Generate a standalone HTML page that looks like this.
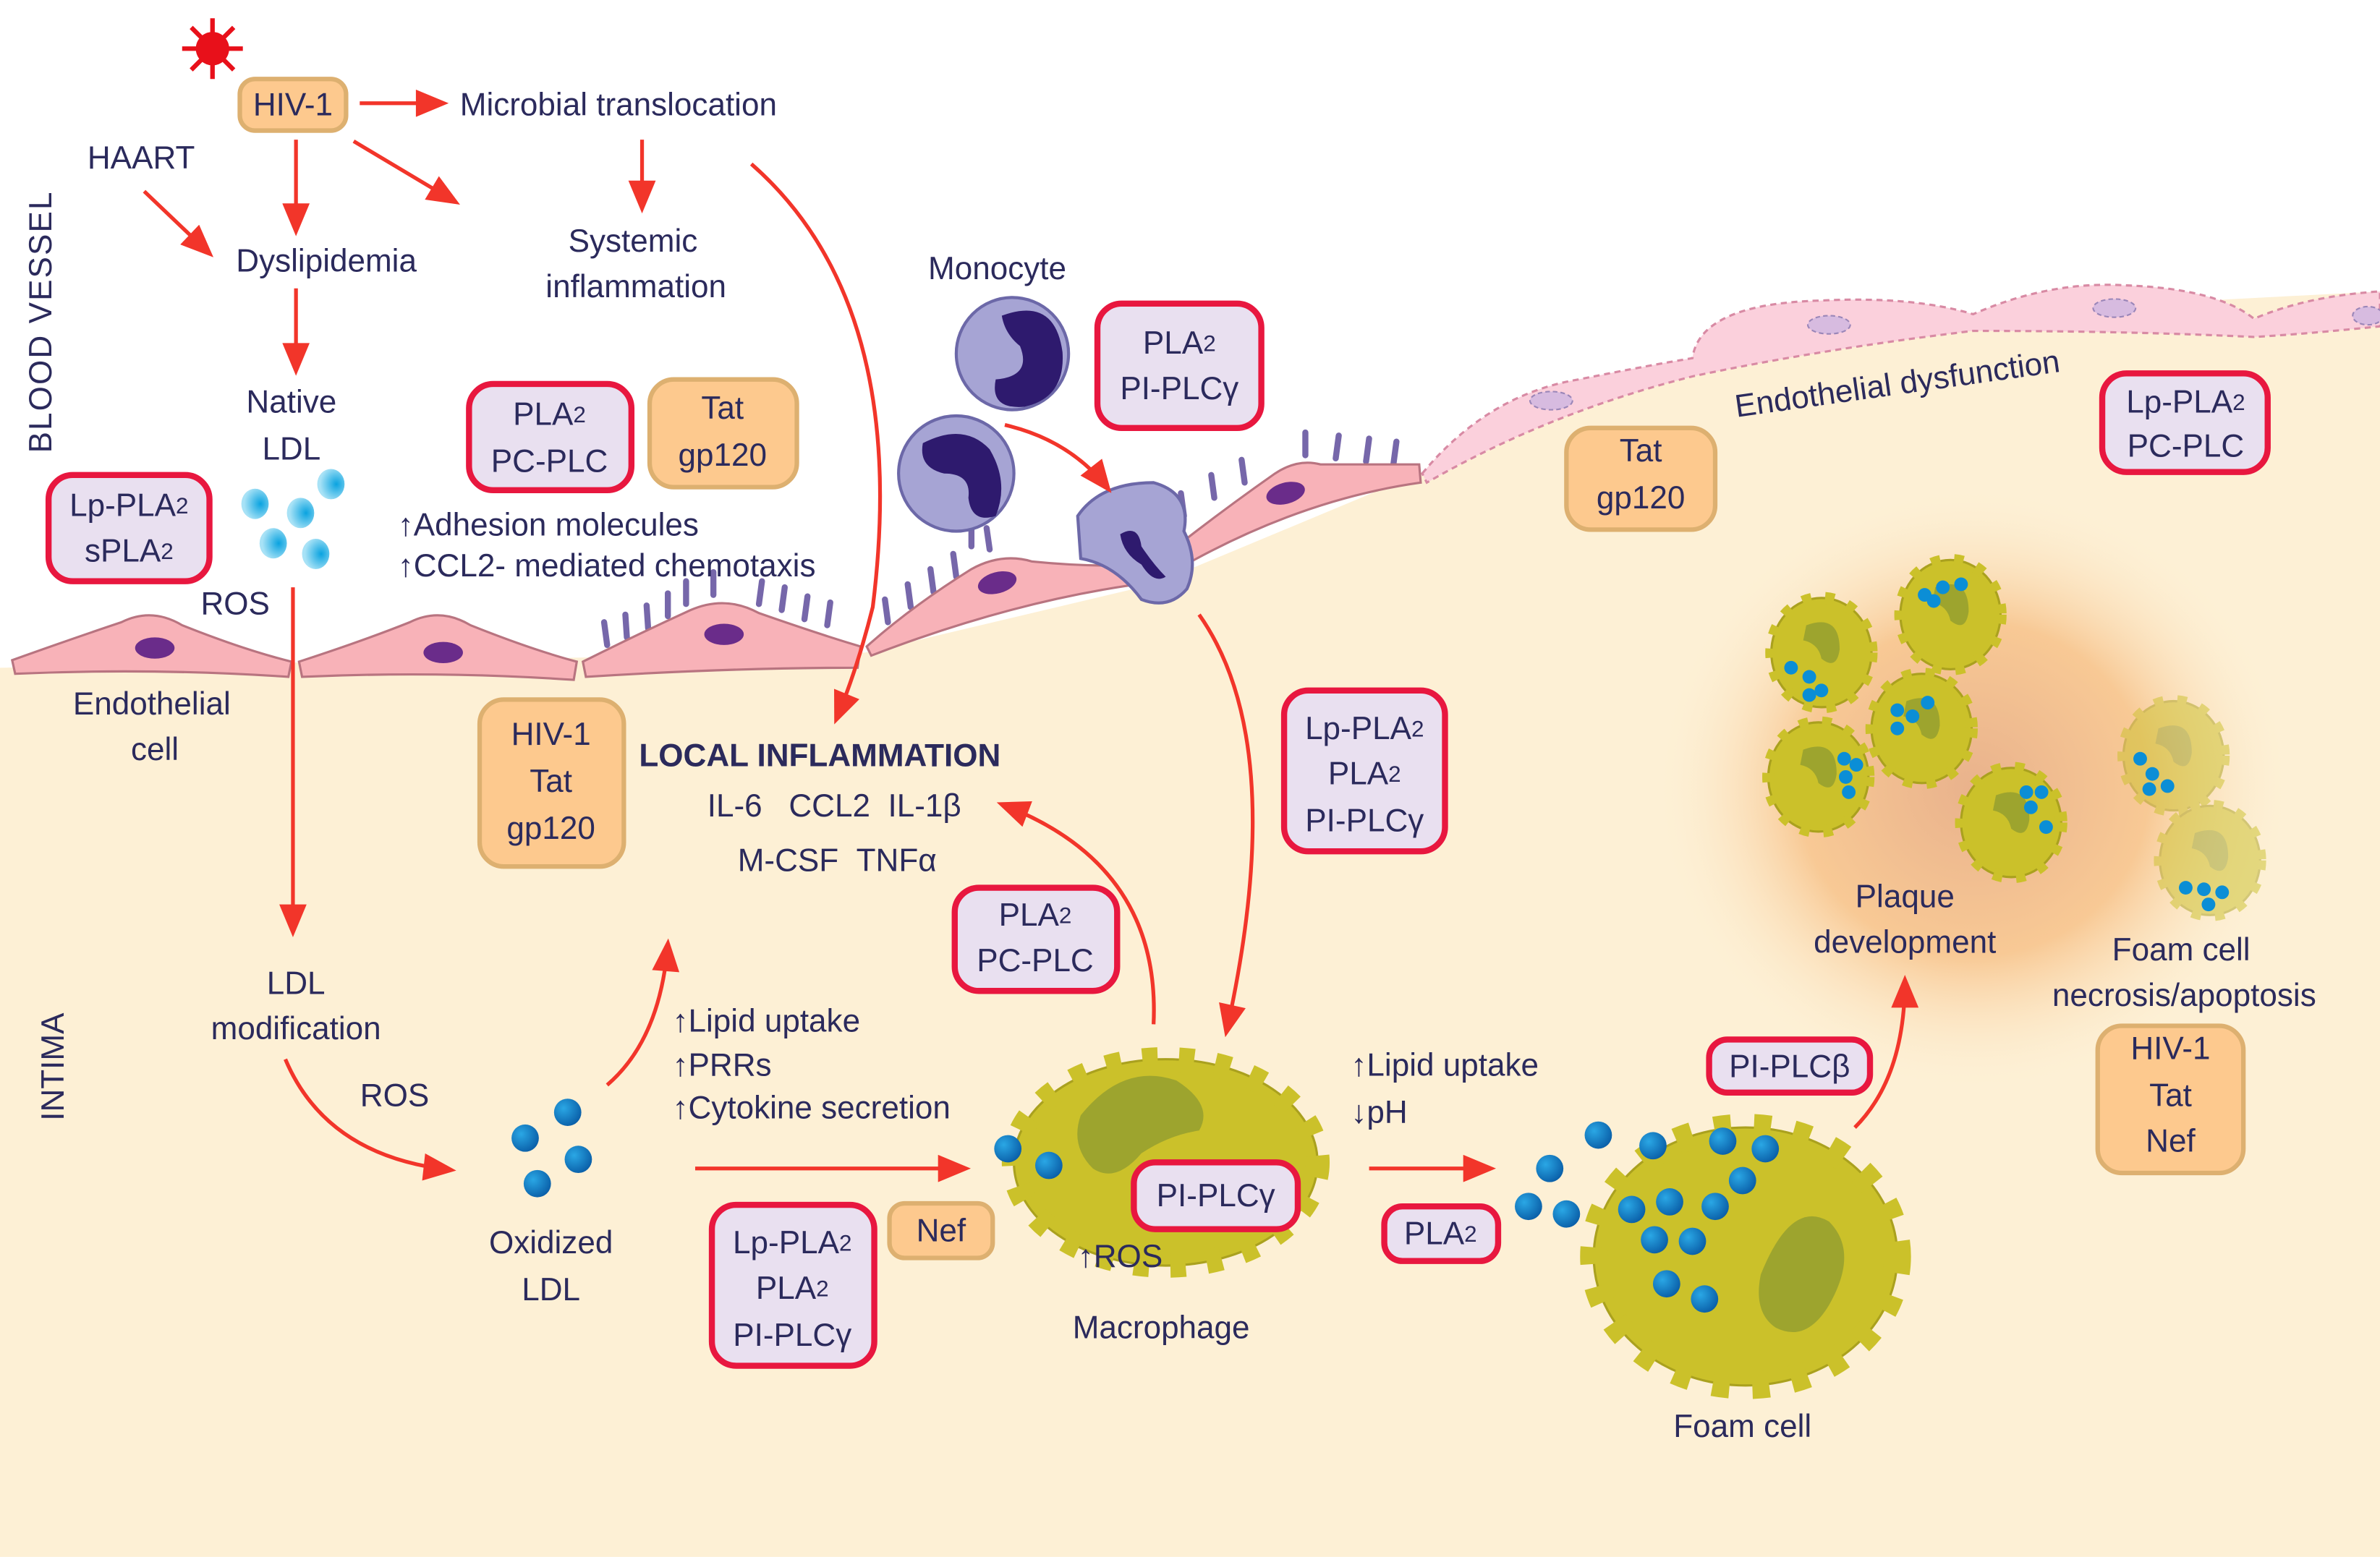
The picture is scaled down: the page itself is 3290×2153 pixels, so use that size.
<!DOCTYPE html>
<html><head><meta charset="utf-8"><style>
html,body{margin:0;padding:0;background:#fff;}
svg{display:block;}
text{font-family:"Liberation Sans",sans-serif;fill:#2b2a5c;font-size:21px;}
.c{text-anchor:middle;dominant-baseline:central;}
.l{dominant-baseline:central;}
.s{font-size:15px;}
</style></head><body>
<svg width="3290" height="2153" viewBox="0 0 1568 1026" xmlns="http://www.w3.org/2000/svg">
<defs>
<marker id="a" viewBox="0 0 12 10" refX="10" refY="5" markerWidth="22" markerHeight="18" orient="auto" markerUnits="userSpaceOnUse"><path d="M0,0 L12,5 L0,10 Z" fill="#f2352a"/></marker>
<radialGradient id="glow" cx="0.5" cy="0.5" r="0.5"><stop offset="0" stop-color="#e9b28c"/><stop offset="0.55" stop-color="#f8c995"/><stop offset="1" stop-color="#fdf0d5" stop-opacity="0"/></radialGradient>
<radialGradient id="lb" cx="0.7" cy="0.5" r="0.6"><stop offset="0" stop-color="#0aa3e0"/><stop offset="1" stop-color="#a8e2f6"/></radialGradient>
<radialGradient id="db" cx="0.35" cy="0.35" r="0.7"><stop offset="0" stop-color="#2aa7e5"/><stop offset="1" stop-color="#0a5fa8"/></radialGradient>
<g id="fc"><ellipse cx="0" cy="0" rx="33" ry="36" fill="#cbc12a" stroke="#aaa11e" stroke-width="1.5"/><ellipse cx="0" cy="0" rx="33" ry="36" fill="none" stroke="#cbc12a" stroke-width="8" stroke-dasharray="6 9"/><path d="M-10,-18 q22,-8 22,16 q-2,14 -12,6 q-2,-10 -12,-12z" fill="#9da42e"/></g>
</defs>
<rect width="1568" height="1026" fill="#fff"/>
<path d="M0,440 L570,430 L760,385 L935,312 Q1050,262 1130,236 L1300,206 L1568,192 L1568,1026 L0,1026 Z" fill="#fdf0d5"/>
<ellipse cx="1300" cy="520" rx="210" ry="200" fill="url(#glow)"/>
<path d="M937,312 Q980,260 1040,250 Q1090,240 1115,236 Q1120,200 1200,198 Q1260,195 1300,207 Q1350,185 1400,188 Q1460,190 1485,210 Q1520,195 1568,192 L1568,215 Q1520,220 1485,222 Q1400,218 1300,218 Q1200,230 1115,248 Q1020,272 940,318 Z" fill="#fbd0dc" stroke="#d88aa4" stroke-width="1.5" stroke-dasharray="4 3"/>
<ellipse cx="1022" cy="264" rx="14" ry="6" fill="#d7bbe0" stroke="#9a86b8" stroke-dasharray="3 2"/>
<ellipse cx="1205" cy="214" rx="14" ry="6" fill="#d7bbe0" stroke="#9a86b8" stroke-dasharray="3 2"/>
<ellipse cx="1393" cy="203" rx="14" ry="6" fill="#d7bbe0" stroke="#9a86b8" stroke-dasharray="3 2"/>
<ellipse cx="1560" cy="208" rx="10" ry="6" fill="#d7bbe0" stroke="#9a86b8" stroke-dasharray="3 2"/>
<g stroke="#7667aa" stroke-width="4" stroke-linecap="round">
<line x1="400" y1="425" x2="398" y2="410"/><line x1="413" y1="420" x2="412" y2="405"/><line x1="427" y1="414" x2="426" y2="399"/><line x1="440" y1="406" x2="440" y2="391"/><line x1="452" y1="398" x2="452" y2="383"/><line x1="470" y1="392" x2="470" y2="377"/><line x1="500" y1="398" x2="502" y2="383"/><line x1="515" y1="402" x2="517" y2="387"/><line x1="530" y1="408" x2="532" y2="393"/><line x1="545" y1="412" x2="547" y2="397"/>
<line x1="585" y1="410" x2="583" y2="395"/><line x1="600" y1="400" x2="598" y2="385"/><line x1="615" y1="390" x2="613" y2="375"/><line x1="630" y1="380" x2="628" y2="365"/>
<line x1="780" y1="340" x2="778" y2="325"/><line x1="800" y1="328" x2="798" y2="313"/><line x1="820" y1="318" x2="818" y2="303"/><line x1="860" y1="300" x2="860" y2="285"/><line x1="880" y1="302" x2="882" y2="287"/><line x1="900" y1="304" x2="902" y2="289"/><line x1="918" y1="306" x2="920" y2="291"/>
<line x1="650" y1="348" x2="652" y2="362"/><line x1="640" y1="345" x2="640" y2="360"/>
</g>
<g fill="#f8b2b8" stroke="#b87480" stroke-width="1.5">
<path d="M8,435 Q50,420 80,410 Q100,400 120,412 Q160,428 192,436 L190,446 Q100,440 10,444 Z"/>
<path d="M197,436 Q240,422 270,410 Q290,400 310,412 Q350,428 380,436 L378,448 Q290,442 199,446 Z"/>
<path d="M384,436 Q420,418 455,402 Q478,392 500,404 Q540,418 567,426 L565,440 Q480,440 386,446 Z"/>
<path d="M571,426 Q600,400 640,375 Q660,364 680,370 Q720,374 755,372 L757,384 Q670,395 574,432 Z"/>
<path d="M760,372 Q800,340 840,312 Q855,302 870,306 Q905,306 935,306 L936,318 Q850,330 764,382 Z"/>
</g>
<g fill="#6a2c8a"><ellipse cx="102" cy="427" rx="13" ry="7"/><ellipse cx="292" cy="430" rx="13" ry="7"/><ellipse cx="477" cy="418" rx="13" ry="7"/><ellipse cx="657" cy="384" rx="13" ry="7" transform="rotate(-15 657 384)"/><ellipse cx="847" cy="325" rx="13" ry="7" transform="rotate(-15 847 325)"/></g>
<circle cx="667" cy="233" r="37" fill="#a6a4d4" stroke="#6c68a8" stroke-width="2"/>
<path d="M660,208 Q695,195 700,232 Q702,262 675,268 Q652,270 656,250 Q680,248 672,228 Q662,220 660,208Z" fill="#2e1a6e"/>
<circle cx="630" cy="312" r="38" fill="#a6a4d4" stroke="#6c68a8" stroke-width="2"/>
<path d="M608,292 Q635,278 652,296 Q665,318 656,340 Q640,345 638,328 Q640,312 622,312 Q605,308 608,292Z" fill="#2e1a6e"/>
<path d="M710,340 Q725,318 760,318 Q785,325 780,350 Q790,370 782,388 Q770,402 752,395 Q735,372 712,368 Z" fill="#a6a4d4" stroke="#6c68a8" stroke-width="2"/>
<path d="M738,352 Q750,345 752,360 Q760,372 768,380 Q760,385 752,372 Q740,365 738,352Z" fill="#2e1a6e"/>
<use href="#fc" x="1200" y="430"/>
<use href="#fc" x="1285" y="405"/>
<use href="#fc" x="1266" y="480"/>
<use href="#fc" x="1198" y="512"/>
<use href="#fc" x="1325" y="542"/>
<g opacity="0.5"><use href="#fc" x="1432" y="498"/><use href="#fc" x="1456" y="567"/></g>
<g fill="#0b8ed6">
<circle cx="1268" cy="392" r="4.5"/><circle cx="1280" cy="387" r="4.5"/><circle cx="1292" cy="385" r="4.5"/><circle cx="1274" cy="396" r="4.5"/>
<circle cx="1180" cy="440" r="4.5"/><circle cx="1192" cy="446" r="4.5"/><circle cx="1200" cy="455" r="4.5"/><circle cx="1192" cy="458" r="4.5"/>
<circle cx="1250" cy="468" r="4.5"/><circle cx="1260" cy="472" r="4.5"/><circle cx="1270" cy="463" r="4.5"/><circle cx="1250" cy="480" r="4.5"/>
<circle cx="1215" cy="500" r="4.5"/><circle cx="1223" cy="504" r="4.5"/><circle cx="1216" cy="512" r="4.5"/><circle cx="1218" cy="522" r="4.5"/>
<circle cx="1335" cy="522" r="4.5"/><circle cx="1345" cy="522" r="4.5"/><circle cx="1338" cy="532" r="4.5"/><circle cx="1348" cy="545" r="4.5"/>
<circle cx="1410" cy="500" r="4.5"/><circle cx="1418" cy="510" r="4.5"/><circle cx="1428" cy="518" r="4.5"/><circle cx="1416" cy="520" r="4.5"/>
<circle cx="1440" cy="585" r="4.5"/><circle cx="1452" cy="586" r="4.5"/><circle cx="1464" cy="588" r="4.5"/><circle cx="1455" cy="596" r="4.5"/>
</g>
<ellipse cx="768" cy="766" rx="100" ry="68" fill="#cbc12a" stroke="#aaa11e" stroke-width="1.5"/>
<ellipse cx="768" cy="766" rx="100" ry="68" fill="none" stroke="#cbc12a" stroke-width="16" stroke-dasharray="10 14"/>
<path d="M712,735 Q740,700 775,712 Q800,728 790,745 Q770,748 752,760 Q735,780 720,770 Q705,755 712,735Z" fill="#9da42e"/>
<ellipse cx="1150" cy="828" rx="100" ry="85" fill="#cbc12a" stroke="#aaa11e" stroke-width="1.5"/>
<ellipse cx="1150" cy="828" rx="100" ry="85" fill="none" stroke="#cbc12a" stroke-width="18" stroke-dasharray="11 15"/>
<path d="M1160,840 Q1180,790 1205,805 Q1225,825 1205,860 Q1190,885 1170,875 Q1155,865 1160,840Z" fill="#9da42e"/>
<g fill="url(#lb)"><ellipse cx="168" cy="332" rx="9" ry="10"/><ellipse cx="198" cy="338" rx="9" ry="10"/><ellipse cx="218" cy="319" rx="9" ry="10"/><ellipse cx="180" cy="358" rx="9" ry="10"/><ellipse cx="208" cy="365" rx="9" ry="10"/></g>
<g fill="url(#db)">
<circle cx="374" cy="733" r="9"/><circle cx="346" cy="750" r="9"/><circle cx="381" cy="764" r="9"/><circle cx="354" cy="780" r="9"/>
<circle cx="664" cy="757" r="9"/><circle cx="691" cy="768" r="9"/>
<circle cx="1053" cy="748" r="9"/><circle cx="1089" cy="755" r="9"/><circle cx="1021" cy="770" r="9"/><circle cx="1007" cy="795" r="9"/><circle cx="1032" cy="800" r="9"/>
<circle cx="1135" cy="752" r="9"/><circle cx="1163" cy="757" r="9"/><circle cx="1148" cy="778" r="9"/><circle cx="1075" cy="797" r="9"/><circle cx="1100" cy="792" r="9"/><circle cx="1130" cy="795" r="9"/><circle cx="1090" cy="817" r="9"/><circle cx="1115" cy="818" r="9"/><circle cx="1098" cy="846" r="9"/><circle cx="1123" cy="856" r="9"/>
</g>
<g fill="#e8101a"><circle cx="140" cy="32" r="11"/><g stroke="#e8101a" stroke-width="3"><line x1="140" y1="12" x2="140" y2="52"/><line x1="120" y1="32" x2="160" y2="32"/><line x1="126" y1="18" x2="154" y2="46"/><line x1="154" y1="18" x2="126" y2="46"/></g></g>
<g stroke="#f2352a" stroke-width="2.5" fill="none" marker-end="url(#a)">
<line x1="237" y1="68" x2="292" y2="68"/>
<line x1="195" y1="92" x2="195" y2="152"/>
<line x1="233" y1="93" x2="300" y2="133"/>
<line x1="95" y1="126" x2="138" y2="167"/>
<line x1="423" y1="92" x2="423" y2="137"/>
<line x1="195" y1="190" x2="195" y2="244"/>
<line x1="193" y1="387" x2="193" y2="614"/>
<path d="M495,108 Q600,200 575,400 Q565,440 551,474"/>
<path d="M662,280 Q705,290 730,322"/>
<path d="M790,405 Q850,490 808,680"/>
<path d="M188,698 Q215,762 297,771"/>
<path d="M400,715 Q435,685 440,622"/>
<line x1="458" y1="770" x2="636" y2="770"/>
<path d="M760,675 Q765,570 660,530"/>
<line x1="902" y1="770" x2="982" y2="770"/>
<path d="M1222,743 Q1255,710 1255,646"/>
</g>
<g stroke-width="4" stroke="#e8173f" fill="#e9e0f0">
<rect x="32" y="313" width="106" height="70" rx="16"/>
<rect x="309" y="253" width="107" height="70" rx="16"/>
<rect x="723" y="200" width="108" height="82" rx="16"/>
<rect x="1385" y="246" width="109" height="65" rx="16"/>
<rect x="846" y="455" width="106" height="106" rx="16"/>
<rect x="629" y="585" width="107" height="68" rx="16"/>
<rect x="469" y="794" width="107" height="106" rx="16"/>
<rect x="747" y="766" width="108" height="44" rx="14"/>
<rect x="912" y="795" width="75" height="36" rx="12"/>
<rect x="1126" y="685" width="106" height="35" rx="12"/>
</g>
<g stroke-width="3" stroke="#ddb070" fill="#fdc98e">
<rect x="158" y="52" width="70" height="34" rx="10"/>
<rect x="428" y="250" width="97" height="71" rx="16"/>
<rect x="1032" y="282" width="98" height="67" rx="16"/>
<rect x="316" y="461" width="95" height="110" rx="16"/>
<rect x="586" y="793" width="68" height="36" rx="10"/>
<rect x="1382" y="676" width="96" height="97" rx="16"/>
</g>
<text class="c" x="193" y="69">HIV-1</text>
<text class="c" x="85" y="333">Lp-PLA<tspan class="s">2</tspan></text><text class="c" x="85" y="363">sPLA<tspan class="s">2</tspan></text>
<text class="c" x="362" y="273">PLA<tspan class="s">2</tspan></text><text class="c" x="362" y="304">PC-PLC</text>
<text class="c" x="476" y="269">Tat</text><text class="c" x="476" y="300">gp120</text>
<text class="c" x="777" y="226">PLA<tspan class="s">2</tspan></text><text class="c" x="777" y="256">PI-PLCγ</text>
<text class="c" x="1081" y="297">Tat</text><text class="c" x="1081" y="328">gp120</text>
<text class="c" x="1440" y="265">Lp-PLA<tspan class="s">2</tspan></text><text class="c" x="1440" y="294">PC-PLC</text>
<text class="c" x="363" y="484">HIV-1</text><text class="c" x="363" y="515">Tat</text><text class="c" x="363" y="546">gp120</text>
<text class="c" x="899" y="480">Lp-PLA<tspan class="s">2</tspan></text><text class="c" x="899" y="510">PLA<tspan class="s">2</tspan></text><text class="c" x="899" y="541">PI-PLCγ</text>
<text class="c" x="682" y="603">PLA<tspan class="s">2</tspan></text><text class="c" x="682" y="633">PC-PLC</text>
<text class="c" x="522" y="819">Lp-PLA<tspan class="s">2</tspan></text><text class="c" x="522" y="849">PLA<tspan class="s">2</tspan></text><text class="c" x="522" y="880">PI-PLCγ</text>
<text class="c" x="620" y="811">Nef</text>
<text class="c" x="801" y="788">PI-PLCγ</text>
<text class="c" x="949" y="813">PLA<tspan class="s">2</tspan></text>
<text class="c" x="1179" y="703">PI-PLCβ</text>
<text class="c" x="1430" y="691">HIV-1</text><text class="c" x="1430" y="722">Tat</text><text class="c" x="1430" y="752">Nef</text>
<text class="l" x="303" y="69">Microbial translocation</text>
<text class="c" x="93" y="104">HAART</text>
<text class="c" x="215" y="172">Dyslipidemia</text>
<text class="c" x="417" y="159">Systemic</text><text class="c" x="419" y="189">inflammation</text>
<text class="c" x="192" y="265">Native</text><text class="c" x="192" y="296">LDL</text>
<text class="c" x="657" y="177">Monocyte</text>
<text class="c" x="155" y="398">ROS</text>
<text class="c" x="100" y="464">Endothelial</text><text class="c" x="102" y="494">cell</text>
<text class="l" x="262" y="346">↑Adhesion molecules</text>
<text class="l" x="262" y="373">↑CCL2- mediated chemotaxis</text>
<text class="l" x="421" y="498" style="font-weight:bold">LOCAL INFLAMMATION</text>
<text class="l" x="466" y="531">IL-6&#160;&#160;&#160;CCL2&#160;&#160;IL-1β</text>
<text class="l" x="486" y="567">M-CSF&#160;&#160;TNFα</text>
<text class="c" x="195" y="648">LDL</text><text class="c" x="195" y="678">modification</text>
<text class="c" x="260" y="722">ROS</text>
<text class="c" x="363" y="819">Oxidized</text><text class="c" x="363" y="850">LDL</text>
<text class="l" x="443" y="673">↑Lipid uptake</text>
<text class="l" x="443" y="702">↑PRRs</text>
<text class="l" x="443" y="730">↑Cytokine secretion</text>
<text class="l" x="710" y="828">↑ROS</text>
<text class="c" x="765" y="875">Macrophage</text>
<text class="l" x="890" y="702">↑Lipid uptake</text>
<text class="l" x="890" y="733">↓pH</text>
<text class="c" x="1148" y="940">Foam cell</text>
<text class="c" x="1255" y="591">Plaque</text><text class="c" x="1255" y="621">development</text>
<text class="c" x="1437" y="626">Foam cell</text><text class="c" x="1439" y="656">necrosis/apoptosis</text>
<text class="c" x="1250" y="253" transform="rotate(-8 1250 253)">Endothelial dysfunction</text>
<text class="c" x="27" y="212" transform="rotate(-90 27 212)" style="letter-spacing:1px">BLOOD VESSEL</text>
<text class="c" x="35" y="703" transform="rotate(-90 35 703)">INTIMA</text>
</svg>
</body></html>
